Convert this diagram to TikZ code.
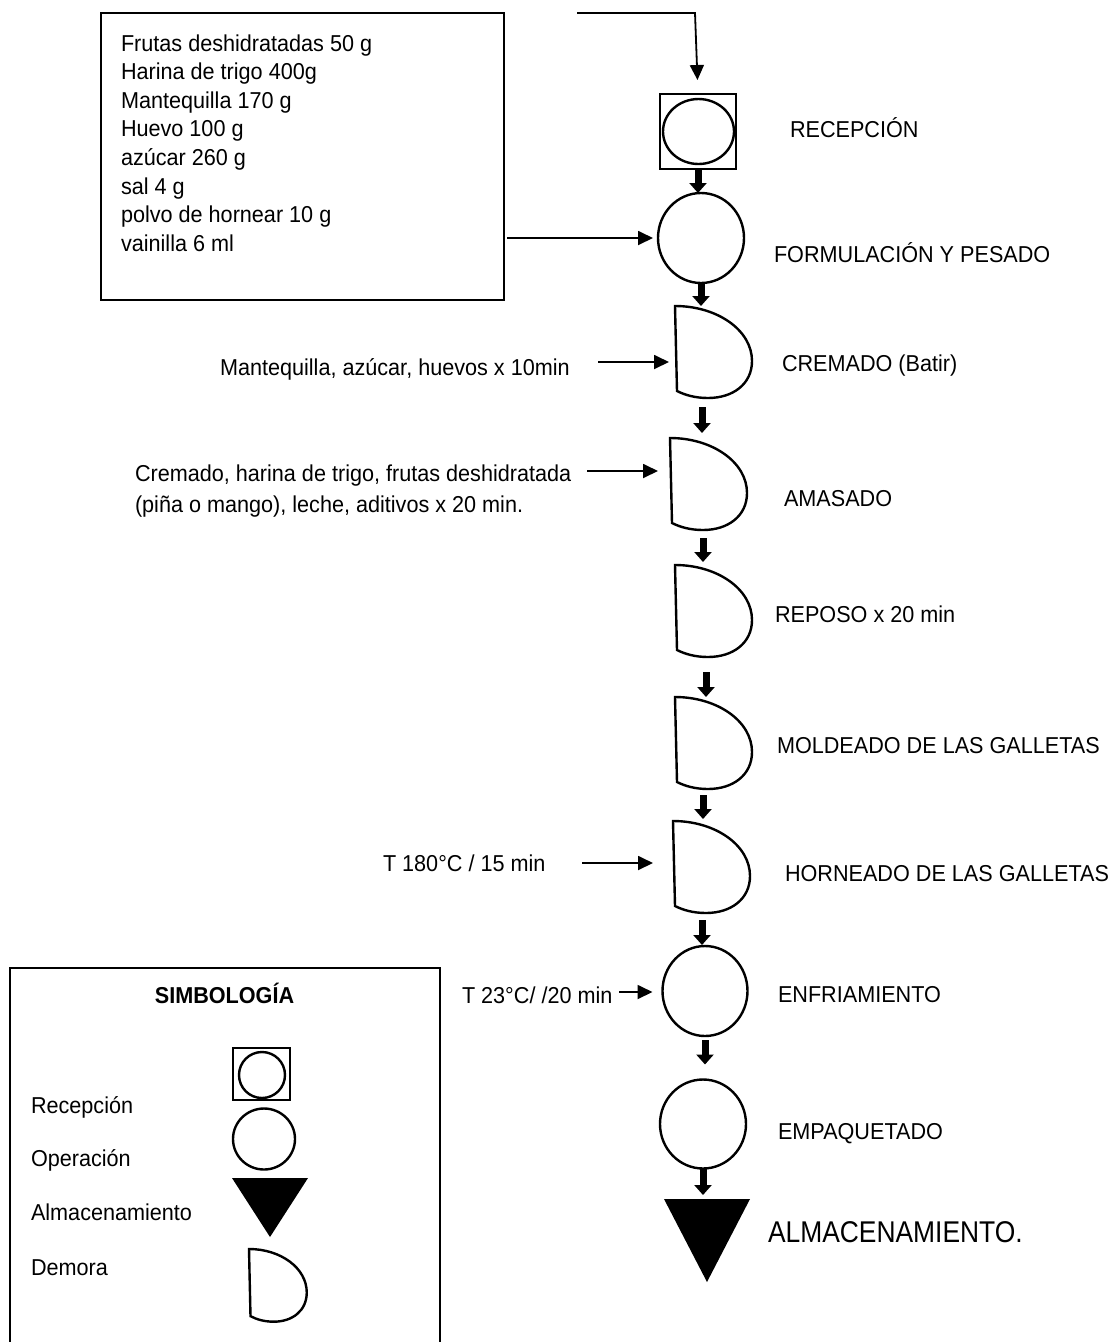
\documentclass[tikz,border=0pt]{standalone}
\usepackage{fontspec}
\setmainfont{Liberation Sans}[FakeStretch=0.94]
\newfontfamily\narrowfont[FakeStretch=0.88]{Liberation Sans}
\usetikzlibrary{arrows.meta,shapes.geometric,calc}
\newcommand\delayshape[2]{%
  \begin{scope}[shift={(#1.north west)},#2]
    \draw[shp] (0,0) .. controls (42,0) and (77,24) .. (77,55)
      .. controls (77,78) and (58,92) .. (33,92)
      .. controls (20,92) and (10,89) .. (2,85) -- cycle;
  \end{scope}}
\begin{document}
\begin{tikzpicture}[x=1pt,y=-1pt,
  every node/.style={inner sep=0pt,outer sep=0pt},
  txt/.style={anchor=base west,font=\fontsize{23}{27}\selectfont},
  shp/.style={draw,line width=2.4pt},
  framebox/.style={draw,line width=2pt},
  thinarrow/.style={line width=1.8pt,-{Triangle[width=14pt,length=15pt]}},
  flowarrow/.style={line width=7pt,-{Triangle[width=17pt,length=10pt]}},
  dbox/.style={minimum width=77pt,minimum height=92pt,anchor=north west},
]
\useasboundingbox (0,0) rectangle (1116,1342);

% ---- ingredients box
\node[framebox,minimum width=403pt,minimum height=287pt,anchor=north west] (ing) at (101,13) {};
\foreach \t [count=\i] in {Frutas deshidratadas 50 g,Harina de trigo 400g,Mantequilla 170 g,Huevo 100 g,az\'ucar 260 g,sal 4 g,polvo de hornear 10 g,vainilla 6 ml}
  \node[txt] (ing\i) at (121,22.6+28.57*\i) {\t};

% ---- main column shapes
\node[framebox,minimum width=76pt,minimum height=75pt] (rec) at (698,131.5) {};
\node[shp,ellipse,minimum width=71pt,minimum height=65pt] (recc) at (698.5,131.5) {};
\node[shp,ellipse,minimum width=86pt,minimum height=90pt] (form) at (701,238) {};
\node[dbox] (cre) at (675,306) {};
\node[dbox] (ama) at (670,438) {};
\node[dbox] (rep) at (675,565) {};
\node[dbox] (mol) at (675,697) {};
\node[dbox] (hor) at (673,821) {};
\delayshape{cre}{}
\delayshape{ama}{}
\delayshape{rep}{}
\delayshape{mol}{}
\delayshape{hor}{}
\node[shp,ellipse,minimum width=85pt,minimum height=90pt] (enf) at (705,991) {};
\node[shp,ellipse,minimum width=86pt,minimum height=89pt] (emp) at (703,1124) {};
\node[minimum width=86pt,minimum height=83pt,anchor=north] (alm) at (707,1199) {};
\fill (alm.north west) -- (alm.north east) -- (alm.south) -- cycle;

% ---- step labels
\node[txt] (lrec) at (790,137) {RECEPCIÓN};
\node[txt] (lform) at (774,262) {FORMULACIÓN Y PESADO};
\node[txt] (lcre) at (782,371) {CREMADO (Batir)};
\node[txt] (lama) at (784,506) {AMASADO};
\node[txt] (lrep) at (775,622) {REPOSO x 20 min};
\node[txt] (lmol) at (777,753) {MOLDEADO DE LAS GALLETAS};
\node[txt] (lhor) at (785,881) {HORNEADO DE LAS GALLETAS};
\node[txt] (lenf) at (778,1002) {ENFRIAMIENTO};
\node[txt] (lemp) at (778,1139) {EMPAQUETADO};
\node[anchor=base west,font=\narrowfont\fontsize{30}{34}\selectfont] (lalm) at (768,1242) {ALMACENAMIENTO.};

% ---- input texts
\node[txt] (tcre) at (220,375) {Mantequilla, azúcar, huevos x 10min};
\node[txt] (tama1) at (135,481) {Cremado, harina de trigo, frutas deshidratada};
\node[txt] (tama2) at (135,512) {(piña o mango), leche, aditivos x 20 min.};
\node[txt] (thor) at (383,871) {T 180°C / 15 min};
\node[txt] (tenf) at (462,1003) {T 23°C/ /20 min};

% ---- top input line
\coordinate (topstart) at (577,13);
\coordinate (topcorner) at (695,13);
\draw[thinarrow,shorten >=14pt] (topstart) -- (topcorner) -- (rec.north);

% ---- input arrows
\draw[thinarrow,shorten <=3pt,shorten >=5pt] (ing.east |- form.west) -- (form.west);
\coordinate (acre) at (598,362);
\draw[thinarrow,shorten >=6pt] (acre) -- (cre.west |- acre);
\coordinate (aama) at (587,471);
\draw[thinarrow,shorten >=12pt] (aama) -- (ama.west |- aama);
\coordinate (ahor) at (582,863);
\draw[thinarrow,shorten >=20pt] (ahor) -- (hor.west |- ahor);
\coordinate (aenf) at (619,992);
\draw[thinarrow,shorten >=10pt] (aenf) -- (enf.west |- aenf);

% ---- flow arrows
\draw[flowarrow] (rec.south) -- (rec.south |- form.north);
\draw[flowarrow] (form.south) -- (form.south |- cre.north);
\draw[flowarrow] ($(cre.south west)+(27,9)$) -- ($(cre.south west |- ama.north)+(27,-5)$);
\draw[flowarrow] ($(ama.south west)+(33,8)$) -- ($(ama.south west |- rep.north)+(33,-3)$);
\draw[flowarrow] ($(rep.south west)+(31,15)$) -- ($(rep.south west |- mol.north)+(31,0)$);
\draw[flowarrow] ($(mol.south west)+(28,6)$) -- ($(mol.south west |- hor.north)+(28,-2)$);
\draw[flowarrow] ($(hor.south west)+(29,7)$) -- ($(hor.south west |- enf.north)+(29,-1)$);
\draw[flowarrow,shorten <=4pt,shorten >=15pt] (enf.south) -- (enf.south |- emp.north);
\draw[flowarrow,shorten >=4pt] (emp.south) -- (emp.south |- alm.north);

% ---- legend
\coordinate (lgbl) at (10,1342);
\coordinate (lgtl) at (10,968);
\coordinate (lgtr) at (440,968);
\coordinate (lgbr) at (440,1342);
\draw[framebox] (lgbl) -- (lgtl) -- (lgtr) -- (lgbr);
\node[anchor=base,font=\bfseries\fontsize{23}{27}\selectfont] (lgtitle) at (224.5,1003) {SIMBOLOGÍA};
\node[framebox,minimum width=57pt,minimum height=52pt] (lgrec) at (261.5,1074) {};
\node[shp,ellipse,minimum width=46pt,minimum height=46pt] (lgrecc) at (262,1075) {};
\node[shp,ellipse,minimum width=62pt,minimum height=61pt] (lgop) at (264,1139) {};
\node[minimum width=76pt,minimum height=59pt,anchor=north] (lgalm) at (270,1178) {};
\fill (lgalm.north west) -- (lgalm.north east) -- (lgalm.south) -- cycle;
\node[minimum width=58pt,minimum height=73pt,anchor=north west] (lgdem) at (249,1249) {};
\delayshape{lgdem}{xscale=0.75,yscale=0.79}
\node[txt] (lgt1) at (31,1113) {Recepción};
\node[txt] (lgt2) at (31,1166) {Operación};
\node[txt] (lgt3) at (31,1220) {Almacenamiento};
\node[txt] (lgt4) at (31,1275) {Demora};
\end{tikzpicture}
\end{document}
